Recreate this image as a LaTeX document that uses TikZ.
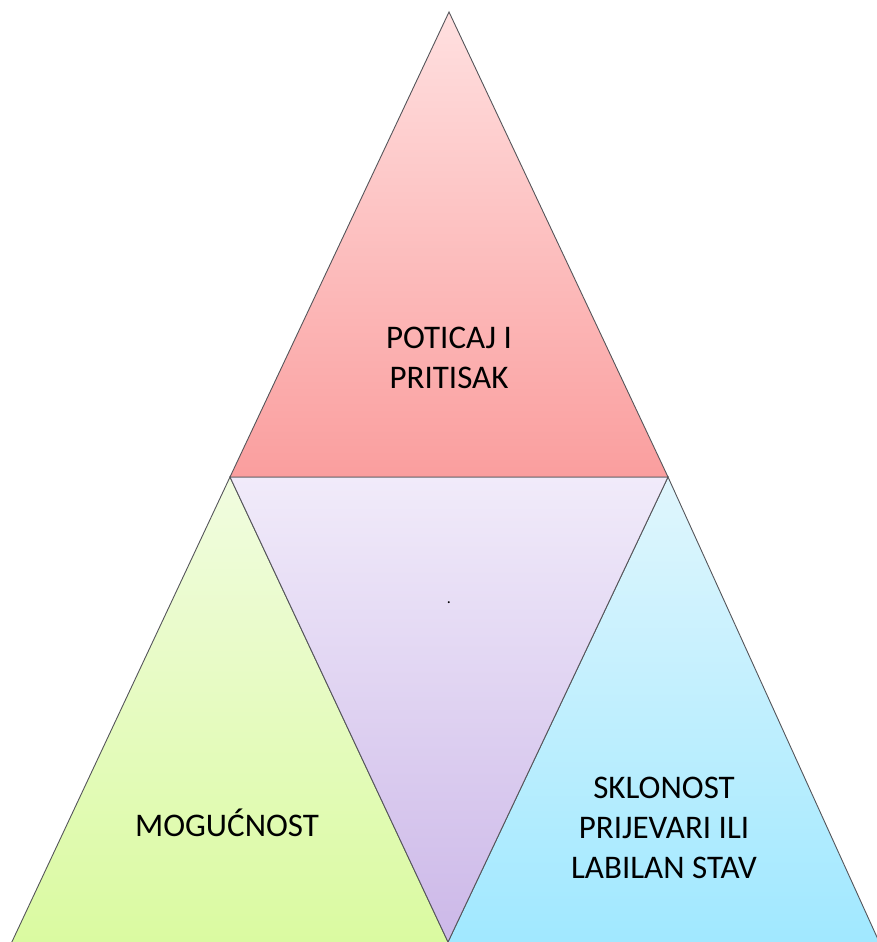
\documentclass[tikz,border=0pt]{standalone}
\usepackage{fontspec}
\setmainfont{Carlito}
\definecolor{redtop}{RGB}{255,224,224}
\definecolor{redbot}{RGB}{250,158,158}
\definecolor{purtop}{RGB}{241,235,250}
\definecolor{purbot}{RGB}{204,184,232}
\definecolor{grntop}{RGB}{241,252,224}
\definecolor{grnbot}{RGB}{218,250,160}
\definecolor{blutop}{RGB}{224,246,253}
\definecolor{blubot}{RGB}{160,232,255}
\definecolor{edge}{RGB}{85,85,90}
\tikzset{
  tri/.style={draw=edge, line width=0.9pt, line join=miter},
  lbl/.style={align=center, inner sep=0pt, text=black, font=\fontsize{33}{40}\selectfont}
}
\begin{document}
\begin{tikzpicture}[x=1pt,y=1pt]
\useasboundingbox (0,0) rectangle (877,942);
% bottom-left green
\path[tri, top color=grntop, bottom color=grnbot] (230,465) -- (449.9,-4) -- (10,-4) -- cycle;
% bottom-right blue
\path[tri, top color=blutop, bottom color=blubot] (668,465) -- (881,-4) -- (446.1,-4) -- cycle;
% middle purple
\path[tri, top color=purtop, bottom color=purbot] (230,465) -- (668,465) -- (448,0) -- cycle;
% top red
\path[tri, top color=redtop, bottom color=redbot] (449,930) -- (668,465) -- (230,465) -- cycle;
% labels
\node[lbl] (top) at (449,584) {POTICAJ I\\PRITISAK};
\node[lbl, anchor=base] (left) at (227,105) {MOGUĆNOST};
\node[lbl] (right) at (664,114.5) {SKLONOST\\PRIJEVARI ILI\\LABILAN STAV};
\node[inner sep=0pt, anchor=base, font=\fontsize{16}{18}\selectfont] (mid) at (449,338) {.};
\end{tikzpicture}
\end{document}
